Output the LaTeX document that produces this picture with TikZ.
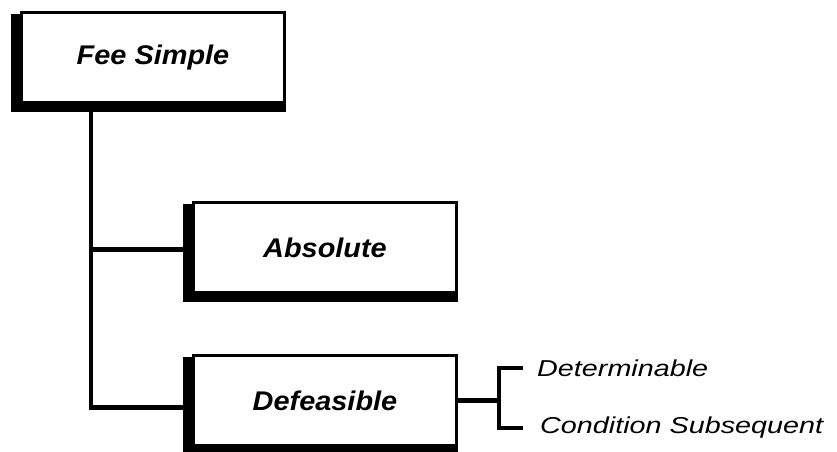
\documentclass[tikz,border=0pt]{standalone}
\usepackage{fontspec}
\setmainfont{Liberation Sans}
\newfontfamily\boxfont[FakeStretch=1.07]{Liberation Sans}
\newfontfamily\leaffont[FakeStretch=1.25]{Liberation Sans}
\usetikzlibrary{backgrounds}
\tikzset{
    estate/.style={draw, line width=3pt, fill=white, minimum width=263pt, minimum height=90pt, inner sep=0pt,
        font=\boxfont\fontsize{27}{31}\selectfont\bfseries\itshape}, % box with thick left and bottom edge
    link/.style={draw, line width=4.5pt},
    leaf/.style={anchor=west, inner sep=0pt, font=\leaffont\fontsize{23}{27}\selectfont\itshape}
}
\newcommand{\estateshade}[1]{%
    \begin{scope}[on background layer]
        \fill ([xshift=-9pt,yshift=-3pt]#1.north west) rectangle ([yshift=-8pt]#1.south east);
    \end{scope}}

\begin{document}
\begin{tikzpicture}[x=1pt, y=-1pt]
	\useasboundingbox (0,0) rectangle (837,451);

	\node (fee) [estate] at (153,57.5) {Fee Simple};
	\node (absolute) [estate] at (325,247.5) {Absolute};
	\node (defeasible) [estate] at (325,400.5) {Defeasible};
	\estateshade{fee}
	\estateshade{absolute}
	\estateshade{defeasible}

	\node (det) [leaf] at (537,368) {Determinable};
	\node (cond) [leaf] at (540,428) {Condition Subsequent};

	\coordinate (trunk) at ([xshift=71pt]fee.south west);
	\draw[link] (trunk) |- ([yshift=-7pt]defeasible.west);
	\draw[link] ([yshift=-2pt]absolute.west) -- ([yshift=-2pt]absolute.west -| trunk);
	\draw[link] (defeasible.east) -- ++(41pt,0) coordinate (fork);
	\draw[link] ([xshift=-14pt]det.west) -| (fork) |- ([xshift=-17pt]cond.west);
\end{tikzpicture}
\end{document}
